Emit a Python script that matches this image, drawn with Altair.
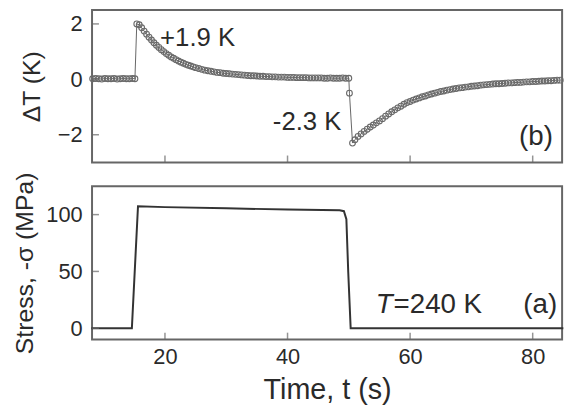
import altair as alt
import pandas as pd

# ---------------- data ----------------
# Panel (b): temperature change ΔT (K) vs time (s)
dt_time = [
    8.2, 8.7, 9.2, 9.7, 10.2, 10.7, 11.2, 11.7, 12.2, 12.7, 13.2, 13.7, 14.2, 14.7, 15.1,
    15.4, 15.8, 16.2, 16.6, 17.0, 17.4, 17.8, 18.2, 18.6, 19.0, 19.4, 19.8, 20.2, 20.6,
    21.0, 21.4, 21.8, 22.2, 22.6, 23.0, 23.4, 23.8, 24.2, 24.6, 25.0, 25.5, 26.0, 26.5,
    27.0, 27.5, 28.0, 28.5, 29.0, 29.5, 30.0, 30.5, 31.0, 31.5, 32.0, 32.5, 33.0, 33.5,
    34.0, 34.5, 35.0, 35.5, 36.0, 36.5, 37.0, 37.5, 38.0, 38.5, 39.0, 39.5, 40.0, 40.5,
    41.0, 41.5, 42.0, 42.5, 43.0, 43.5, 44.0, 44.5, 45.0, 45.5, 46.0, 46.5, 47.0, 47.5,
    48.0, 48.5, 49.0, 49.5, 50.0,
    50.1, 50.6, 51.0, 51.5, 52.0, 52.5, 53.0, 53.5, 54.0, 54.5, 55.0, 55.5, 56.0, 56.5,
    57.0, 57.5, 58.0, 58.5, 59.0, 59.5, 60.0, 60.5, 61.0, 61.5, 62.0, 62.5, 63.0, 63.5,
    64.0, 64.5, 65.0, 65.5, 66.0, 66.5, 67.0, 67.5, 68.0, 68.5, 69.0, 69.5, 70.0, 70.5,
    71.0, 71.5, 72.0, 72.5, 73.0, 73.5, 74.0, 74.5, 75.0, 75.5, 76.0, 76.5, 77.0, 77.5,
    78.0, 78.5, 79.0, 79.5, 80.0, 80.5, 81.0, 81.5, 82.0, 82.5, 83.0, 83.5, 84.0, 84.5,
]
dt_vals = [
    0.02, 0.03, 0.02, 0.01, 0.03, 0.02, 0.02, 0.03, 0.01, 0.02, 0.03, 0.02, 0.02, 0.03, 0.02,
    2.00, 1.97, 1.86, 1.74, 1.63, 1.52, 1.42, 1.32, 1.23, 1.15, 1.07, 1.00, 0.93, 0.87,
    0.81, 0.76, 0.71, 0.66, 0.62, 0.58, 0.54, 0.51, 0.48, 0.45, 0.42, 0.39, 0.36, 0.33,
    0.31, 0.29, 0.27, 0.25, 0.24, 0.22, 0.21, 0.20, 0.19, 0.18, 0.17, 0.16, 0.15, 0.14,
    0.13, 0.13, 0.12, 0.11, 0.11, 0.10, 0.10, 0.09, 0.09, 0.08, 0.08, 0.08, 0.07, 0.07,
    0.07, 0.06, 0.06, 0.06, 0.06, 0.05, 0.05, 0.05, 0.05, 0.05, 0.04, 0.04, 0.05, 0.04,
    0.04, 0.04, 0.05, 0.04, 0.04,
    -0.50, -2.30, -2.18, -2.06, -1.97, -1.88, -1.80, -1.72, -1.65, -1.57, -1.50, -1.42, -1.33, -1.25,
    -1.17, -1.10, -1.03, -0.97, -0.90, -0.84, -0.80, -0.75, -0.71, -0.67, -0.63, -0.60, -0.56, -0.53,
    -0.50, -0.47, -0.44, -0.42, -0.39, -0.37, -0.35, -0.33, -0.31, -0.30, -0.28, -0.27, -0.25, -0.24,
    -0.23, -0.21, -0.20, -0.19, -0.18, -0.17, -0.16, -0.16, -0.15, -0.14, -0.13, -0.13, -0.12, -0.11,
    -0.11, -0.10, -0.09, -0.09, -0.08, -0.08, -0.07, -0.06, -0.06, -0.05, -0.05, -0.04, -0.03, -0.03,
]

# Panel (a): applied stress -σ (MPa) vs time (s)
stress_time = [8.0, 14.6, 15.6, 20.0, 30.0, 40.0, 48.5, 49.2, 49.6, 49.9, 50.3, 85.0]
stress_vals = [0.0, 0.0, 107.3, 106.6, 105.5, 104.5, 103.8, 103.0, 96.0, 50.0, 0.0, 0.0]

x_ticks = [20, 40, 60, 80]
dt_ticks = [-2, 0, 2]
stress_ticks = [0, 50, 100]

df_dt = pd.DataFrame({"t": dt_time, "v": dt_vals})
df_s = pd.DataFrame({"t": stress_time, "v": stress_vals})
df_xt = pd.DataFrame({"t": x_ticks})
df_yt_dt = pd.DataFrame({"v": dt_ticks})
df_yt_s = pd.DataFrame({"v": stress_ticks})

# ---------------- styling ----------------
FONT = "Liberation Sans"
TXT = "#2a2a2a"
W, H1, H2 = 475, 154, 155
x_scale = alt.Scale(domain=[8.1, 84.8], nice=False, zero=False)


def x_enc(show_labels):
    if show_labels:
        ax = alt.Axis(values=x_ticks, ticks=False, domain=False, grid=False,
                      labelFontSize=22, labelColor=TXT, labelPadding=7,
                      title="Time, t (s)", titleFontSize=29, titleFontWeight="normal",
                      titleColor=TXT, titlePadding=9)
        return alt.X("t:Q", scale=x_scale, axis=ax)
    return alt.X("t:Q", scale=x_scale, axis=None)


def y_enc(domain, values, title, tpad):
    ax = alt.Axis(values=values, ticks=False, domain=False, grid=False,
                  labelFontSize=22, labelColor=TXT, labelPadding=10,
                  title=title, titleFontSize=25, titleFontWeight="normal",
                  titleColor=TXT, titlePadding=tpad)
    return alt.Y("v:Q", scale=alt.Scale(domain=domain, nice=False, zero=False), axis=ax)


# ---------------- panel (b) ----------------
yb = y_enc([-3, 2.5], dt_ticks, "ΔT (K)", 13)
xb = x_enc(False)

b_line = alt.Chart(df_dt).mark_line(color="#666", strokeWidth=1).encode(x=xb, y=yb)
b_pts = alt.Chart(df_dt).mark_point(shape="circle", filled=False, color="#6a6a6a",
                                    size=34, strokeWidth=1.1, opacity=1).encode(x=xb, y=yb)
b_xt = alt.Chart(df_xt).mark_tick(orient="vertical", color="#666", thickness=1.5,
                                  size=7).encode(x=xb, y=alt.value(H1 - 3.5))
b_yt = alt.Chart(df_yt_dt).mark_tick(orient="horizontal", color="#666", thickness=1.5,
                                     size=7).encode(y=yb, x=alt.value(3.5))
b_txt1 = alt.Chart().mark_text(text="+1.9 K", font=FONT, fontSize=26, color=TXT,
                              align="left", baseline="alphabetic").encode(
    x=alt.datum(19.2), y=alt.datum(1.2))
b_txt2 = alt.Chart().mark_text(text="-2.3 K", font=FONT, fontSize=26, color=TXT,
                              align="left", baseline="alphabetic").encode(
    x=alt.datum(37.6), y=alt.datum(-1.84))
b_txt3 = alt.Chart().mark_text(text="(b)", font=FONT, fontSize=28, color=TXT,
                              align="right", baseline="alphabetic").encode(
    x=alt.datum(83.3), y=alt.datum(-2.38))

panel_b = alt.layer(b_line, b_pts, b_xt, b_yt, b_txt1, b_txt2, b_txt3).properties(
    width=W, height=H1)

# ---------------- panel (a) ----------------
ya = y_enc([-10, 125], stress_ticks, "Stress, -σ (MPa)", 8)
xa = x_enc(True)

a_line = alt.Chart(df_s).mark_line(color="#333", strokeWidth=2).encode(x=xa, y=ya)
a_xt = alt.Chart(df_xt).mark_tick(orient="vertical", color="#666", thickness=1.5,
                                  size=7).encode(x=xa, y=alt.value(H2 - 3.5))
a_yt = alt.Chart(df_yt_s).mark_tick(orient="horizontal", color="#666", thickness=1.5,
                                    size=7).encode(y=ya, x=alt.value(3.5))
a_T = alt.Chart().mark_text(text="T", font=FONT, fontSize=28, fontStyle="italic", color=TXT,
                           align="left", baseline="alphabetic").encode(
    x=alt.datum(54.4), y=alt.datum(13.6))
a_txt = alt.Chart().mark_text(text="=240 K", font=FONT, fontSize=28, color=TXT,
                             align="left", baseline="alphabetic").encode(
    x=alt.datum(57.3), y=alt.datum(13.6))
a_lab = alt.Chart().mark_text(text="(a)", font=FONT, fontSize=28, color=TXT,
                             align="right", baseline="alphabetic").encode(
    x=alt.datum(84.0), y=alt.datum(13.6))

panel_a = alt.layer(a_line, a_xt, a_yt, a_T, a_txt, a_lab).properties(width=W, height=H2)

chart = alt.vconcat(panel_b, panel_a, spacing=24, bounds="flush").properties(
    padding={"left": 12, "top": 7, "right": 3, "bottom": 4},
    background="white",
).configure_view(
    stroke="#666", strokeWidth=2
).configure_axis(
    labelFont=FONT, titleFont=FONT
).configure_text(font=FONT)

chart.save("out.html", embed_options={"renderer": "svg", "actions": False})
